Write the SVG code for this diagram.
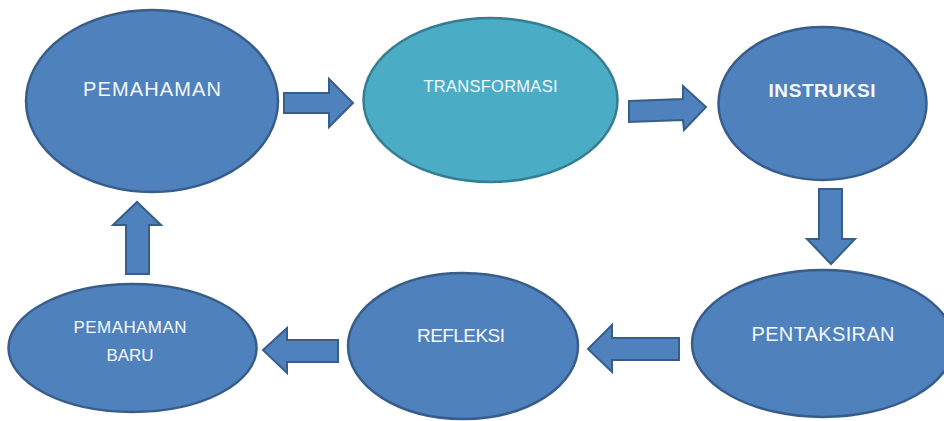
<svg xmlns="http://www.w3.org/2000/svg" width="944" height="421" viewBox="0 0 944 421">
<style>
.n{fill:#4F81BD;stroke:#385D8A;stroke-width:2.5}
.t{fill:#4BACC6;stroke:#357D91;stroke-width:2.5}
.a{fill:#4F81BD;stroke:#385D8A;stroke-width:2;stroke-linejoin:miter}
.lb{font-family:"Liberation Sans",Arial,sans-serif;fill:#F4F8FD;text-anchor:middle}
</style>
<rect width="944" height="421" fill="#FFFFFF"/>
<g id="pemahaman">
<ellipse class="n" cx="152" cy="101" rx="126" ry="91"/>
<text class="lb" x="152" y="96" font-size="20" textLength="138" lengthAdjust="spacing">PEMAHAMAN</text>
</g>
<g id="transformasi">
<ellipse class="t" cx="490.5" cy="100" rx="127" ry="82"/>
<text class="lb" x="490.5" y="92" font-size="16.5" textLength="134" lengthAdjust="spacing">TRANSFORMASI</text>
</g>
<g id="instruksi">
<ellipse class="n" cx="822.5" cy="103.5" rx="104" ry="76.5"/>
<text class="lb" x="822" y="97" font-size="19" font-weight="bold" textLength="107" lengthAdjust="spacing">INSTRUKSI</text>
</g>
<g id="pentaksiran">
<ellipse class="n" cx="823" cy="343.5" rx="131" ry="73.5"/>
<text class="lb" x="823" y="341" font-size="20" textLength="143" lengthAdjust="spacing">PENTAKSIRAN</text>
</g>
<g id="refleksi">
<ellipse class="n" cx="463" cy="346" rx="115" ry="73"/>
<text class="lb" x="461" y="342" font-size="19" textLength="88" lengthAdjust="spacing">REFLEKSI</text>
</g>
<g id="pemahaman-baru">
<ellipse class="n" cx="132.5" cy="348" rx="124" ry="64"/>
<text class="lb" x="130" y="333" font-size="17" textLength="113" lengthAdjust="spacing">PEMAHAMAN</text>
<text class="lb" x="130" y="361" font-size="17" textLength="47" lengthAdjust="spacing">BARU</text>
</g>
<g id="connectors">
<polygon class="a" points="284,93 329,93 329,79 353,103 329,127 329,113 284,113"/>
<polygon class="a" points="629,101 683,99 683,86 706,107 684,130 683,120 629,122"/>
<polygon class="a" points="819,189 842,189 842,239 855,239 831,264 807,239 819,239"/>
<polygon class="a" points="679,338 612,338 612,325 588,349 612,372 612,360 679,360"/>
<polygon class="a" points="338,340 287,340 287,328 263,350 287,373 287,362 338,362"/>
<polygon class="a" points="126,274 126,225 113,225 137,202 161,225 149,225 149,274"/>
</g>
</svg>
